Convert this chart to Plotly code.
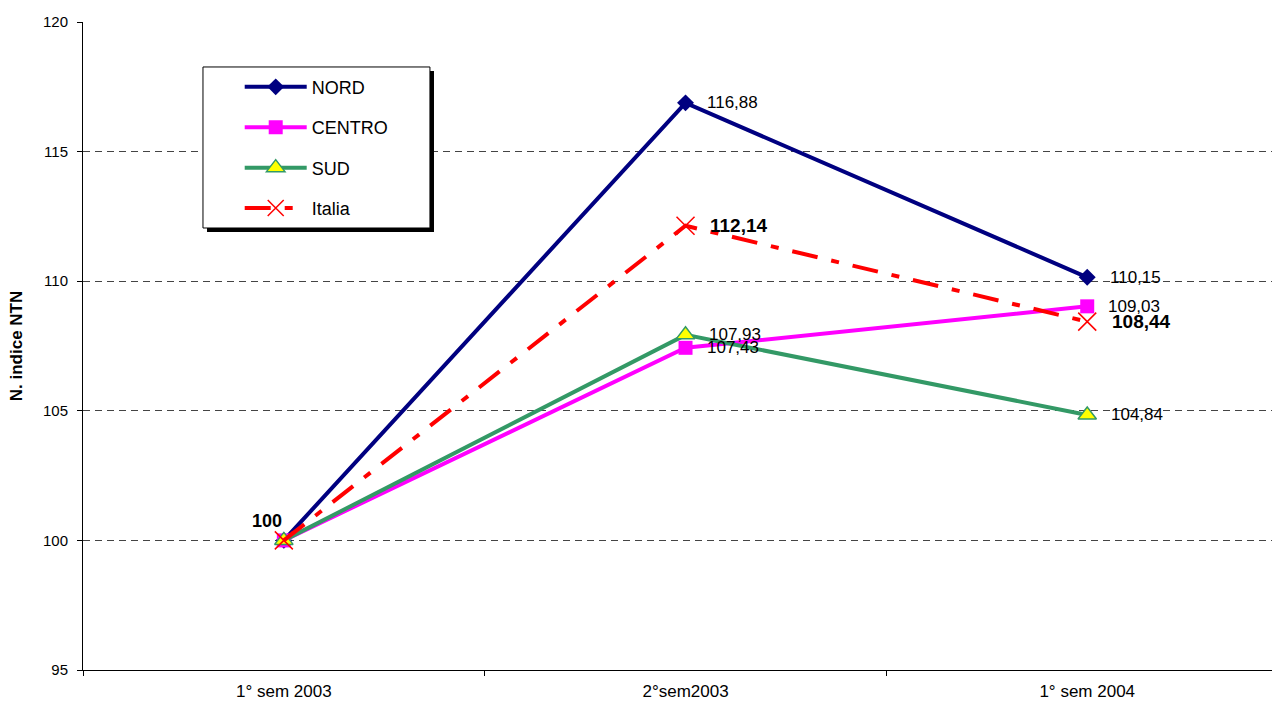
import plotly.graph_objects as go

# Semester categories and index values (base 100 = 1st half 2003)
periods = ["1° sem 2003", "2°sem2003", "1° sem 2004"]
nord = [100, 116.88, 110.15]
centro = [100, 107.43, 109.03]
sud = [100, 107.93, 104.84]
italia = [100, 112.14, 108.44]

FONT = "Arial, Liberation Sans, sans-serif"


def fmt(v):
    return f"{v:.2f}".replace(".", ",")


fig = go.Figure()

fig.add_trace(go.Scatter(
    x=periods, y=nord, name="NORD", mode="lines+markers",
    line=dict(color="#000080", width=4),
    marker=dict(symbol="diamond", size=13, color="#000080"),
    legendgroup="a",
))
fig.add_trace(go.Scatter(
    x=periods, y=centro, name="CENTRO", mode="lines+markers",
    line=dict(color="#FF00FF", width=4),
    marker=dict(symbol="square", size=14, color="#FF00FF"),
    legendgroup="b",
))
fig.add_trace(go.Scatter(
    x=periods, y=sud, name="SUD", mode="lines+markers",
    line=dict(color="#339966", width=4),
    marker=dict(symbol="triangle-up", size=16, color="#FFFF00",
                line=dict(color="#339966", width=1.5)),
    legendgroup="c",
))
fig.add_trace(go.Scatter(
    x=periods, y=italia, name="Italia", mode="lines+markers",
    line=dict(color="#FF0000", width=4, dash="26px,14px,8px,14px"),
    marker=dict(symbol="x-thin-open", size=18, color="#FF0000",
                line=dict(color="#FF0000", width=1.5)),
    legendgroup="d",
))

# value labels placed to the right of each point
annotations = []
label_specs = [
    (nord, False, [None, (19, 0), (21, 0)]),
    (centro, False, [None, (19, 0), (19, 0)]),
    (sud, False, [None, (21, 0), (22, 0)]),
    (italia, True, [None, (22, 0), (23, 0)]),
]
for values, bold, shifts in label_specs:
    for cat, v, sh in zip(periods, values, shifts):
        if sh is None:
            continue
        txt = fmt(v)
        annotations.append(dict(
            x=cat, y=v, xref="x", yref="y", text=f"<b>{txt}</b>" if bold else txt,
            showarrow=False, xanchor="left", yanchor="middle",
            xshift=sh[0], yshift=sh[1],
            font=dict(family=FONT, size=19 if bold else 17, color="#000"),
        ))
# common base value label
annotations.append(dict(
    x=periods[0], y=italia[0], xref="x", yref="y", text=f"<b>{italia[0]}</b>",
    showarrow=False, xanchor="right", yanchor="middle", xshift=0, yshift=19,
    font=dict(family=FONT, size=18, color="#000"),
))

# legend frame with drop shadow
legend_x0, legend_x1 = 0.1009, 0.2918
legend_y0, legend_y1 = 0.6821, 0.9306
shapes = [
    dict(type="rect", xref="paper", yref="paper", layer="above",
         x0=legend_x0 + 0.0034, x1=legend_x1 + 0.0034,
         y0=legend_y0 - 0.0062, y1=legend_y1 - 0.0062,
         fillcolor="#000", line=dict(width=0)),
    dict(type="rect", xref="paper", yref="paper", layer="above",
         x0=legend_x0, x1=legend_x1, y0=legend_y0, y1=legend_y1,
         fillcolor="#fff", line=dict(color="#000", width=1)),
]

fig.update_layout(
    width=1272, height=705,
    margin=dict(l=83, r=0, t=22, b=35),
    paper_bgcolor="#fff", plot_bgcolor="#fff",
    font=dict(family=FONT, size=14, color="#000"),
    showlegend=True,
    legend=dict(
        x=0.1318, y=0.928, xanchor="left", yanchor="top",
        bgcolor="rgba(0,0,0,0)", borderwidth=0,
        font=dict(family=FONT, size=18, color="#000"),
        itemwidth=62, tracegroupgap=14,
    ),
    annotations=annotations,
    shapes=shapes,
    xaxis=dict(
        type="category", range=[-0.5, 2.46],
        showline=True, linecolor="#000", linewidth=1,
        ticks="outside", tickson="boundaries", ticklen=5, tickcolor="#000",
        showgrid=False, zeroline=False,
        tickfont=dict(family=FONT, size=17, color="#000"),
        ticklabelstandoff=6,
    ),
    yaxis=dict(
        range=[95, 120], dtick=5, tick0=95,
        showline=True, linecolor="#000", linewidth=1,
        ticks="outside", ticklen=5, tickcolor="#000",
        showgrid=True, gridcolor="#444", gridwidth=1, griddash="7px,5px",
        zeroline=False,
        tickfont=dict(family=FONT, size=15, color="#000"),
        ticklabelstandoff=6,
        title=dict(text="<b>N. indice NTN</b>", font=dict(family=FONT, size=17),
                   standoff=16),
    ),
)

fig.write_html("out.html")
